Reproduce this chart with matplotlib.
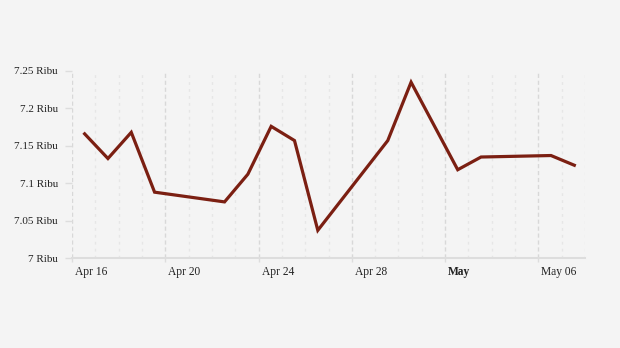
import numpy as np
import pandas as pd
import matplotlib
matplotlib.use('Agg')
import matplotlib.pyplot as plt
import matplotlib.dates as mdates
from matplotlib.transforms import ScaledTranslation

# data (dalam ribu)
tanggal = ['2024-04-16', '2024-04-17', '2024-04-18', '2024-04-19', '2024-04-22',
           '2024-04-23', '2024-04-24', '2024-04-25', '2024-04-26', '2024-04-29',
           '2024-04-30', '2024-05-02', '2024-05-03', '2024-05-06', '2024-05-07']
nilai = [7.166, 7.133, 7.168, 7.088, 7.075, 7.112, 7.176, 7.157, 7.037, 7.157,
         7.235, 7.118, 7.135, 7.137, 7.124]

y_ticks = [7.0, 7.05, 7.1, 7.15, 7.2, 7.25]
y_labels = ['7 Ribu', '7.05 Ribu', '7.1 Ribu', '7.15 Ribu', '7.2 Ribu', '7.25 Ribu']
x_major = ['2024-04-16', '2024-04-20', '2024-04-24', '2024-04-28', '2024-05-02', '2024-05-06']
x_labels = ['Apr 16', 'Apr 20', 'Apr 24', 'Apr 28', 'May', 'May 06']

plt.rcParams['font.family'] = ['Liberation Serif', 'DejaVu Serif']

x = pd.to_datetime(tanggal) + pd.Timedelta(hours=13)

fig = plt.figure(figsize=(6.2, 3.48), dpi=100)
fig.patch.set_facecolor('#f4f4f4')
ax = fig.add_axes([72 / 620, 90 / 348, 513 / 620, 187 / 348])
ax.set_facecolor('#f4f4f4')

# grid harian (minor) dan mingguan (major)
ax.set_xlim(pd.Timestamp('2024-04-16'), pd.Timestamp('2024-05-08'))
ax.set_ylim(7.0, 7.25)
ax.xaxis.set_minor_locator(mdates.DayLocator())
ax.set_xticks(pd.to_datetime(x_major))
ax.set_xticklabels(x_labels)
ax.grid(True, which='minor', axis='x', color='#e6e6e6', linestyle=(0, (2, 3)), linewidth=1)
ax.grid(True, which='major', axis='x', color='#d8d8d8', linestyle=(0, (3, 2)), linewidth=1)

ax.plot(x, nilai, color='#7b1f12', linewidth=2.3, solid_joinstyle='miter', zorder=3)

ax.set_yticks(y_ticks)
ax.set_yticklabels(y_labels)

for s in ['top', 'right', 'left']:
    ax.spines[s].set_visible(False)
ax.spines['bottom'].set_color('#dddddd')
ax.spines['bottom'].set_linewidth(1.5)

ax.tick_params(axis='x', which='major', length=3, color='#dddddd', width=1, pad=3,
               labelsize=8.3, labelcolor='#222222')
ax.tick_params(axis='x', which='minor', length=0)
ax.tick_params(axis='y', length=5, color='#dddddd', width=1, pad=5,
               labelsize=8.0, labelcolor='#222222')

offset = ScaledTranslation(3 / 100, 0, fig.dpi_scale_trans)
for lbl in ax.get_xticklabels():
    lbl.set_horizontalalignment('left')
    lbl.set_transform(lbl.get_transform() + offset)
    if lbl.get_text() == 'May':
        lbl.set_fontweight('bold')

fig.savefig('out.png', dpi=100, facecolor=fig.get_facecolor())
